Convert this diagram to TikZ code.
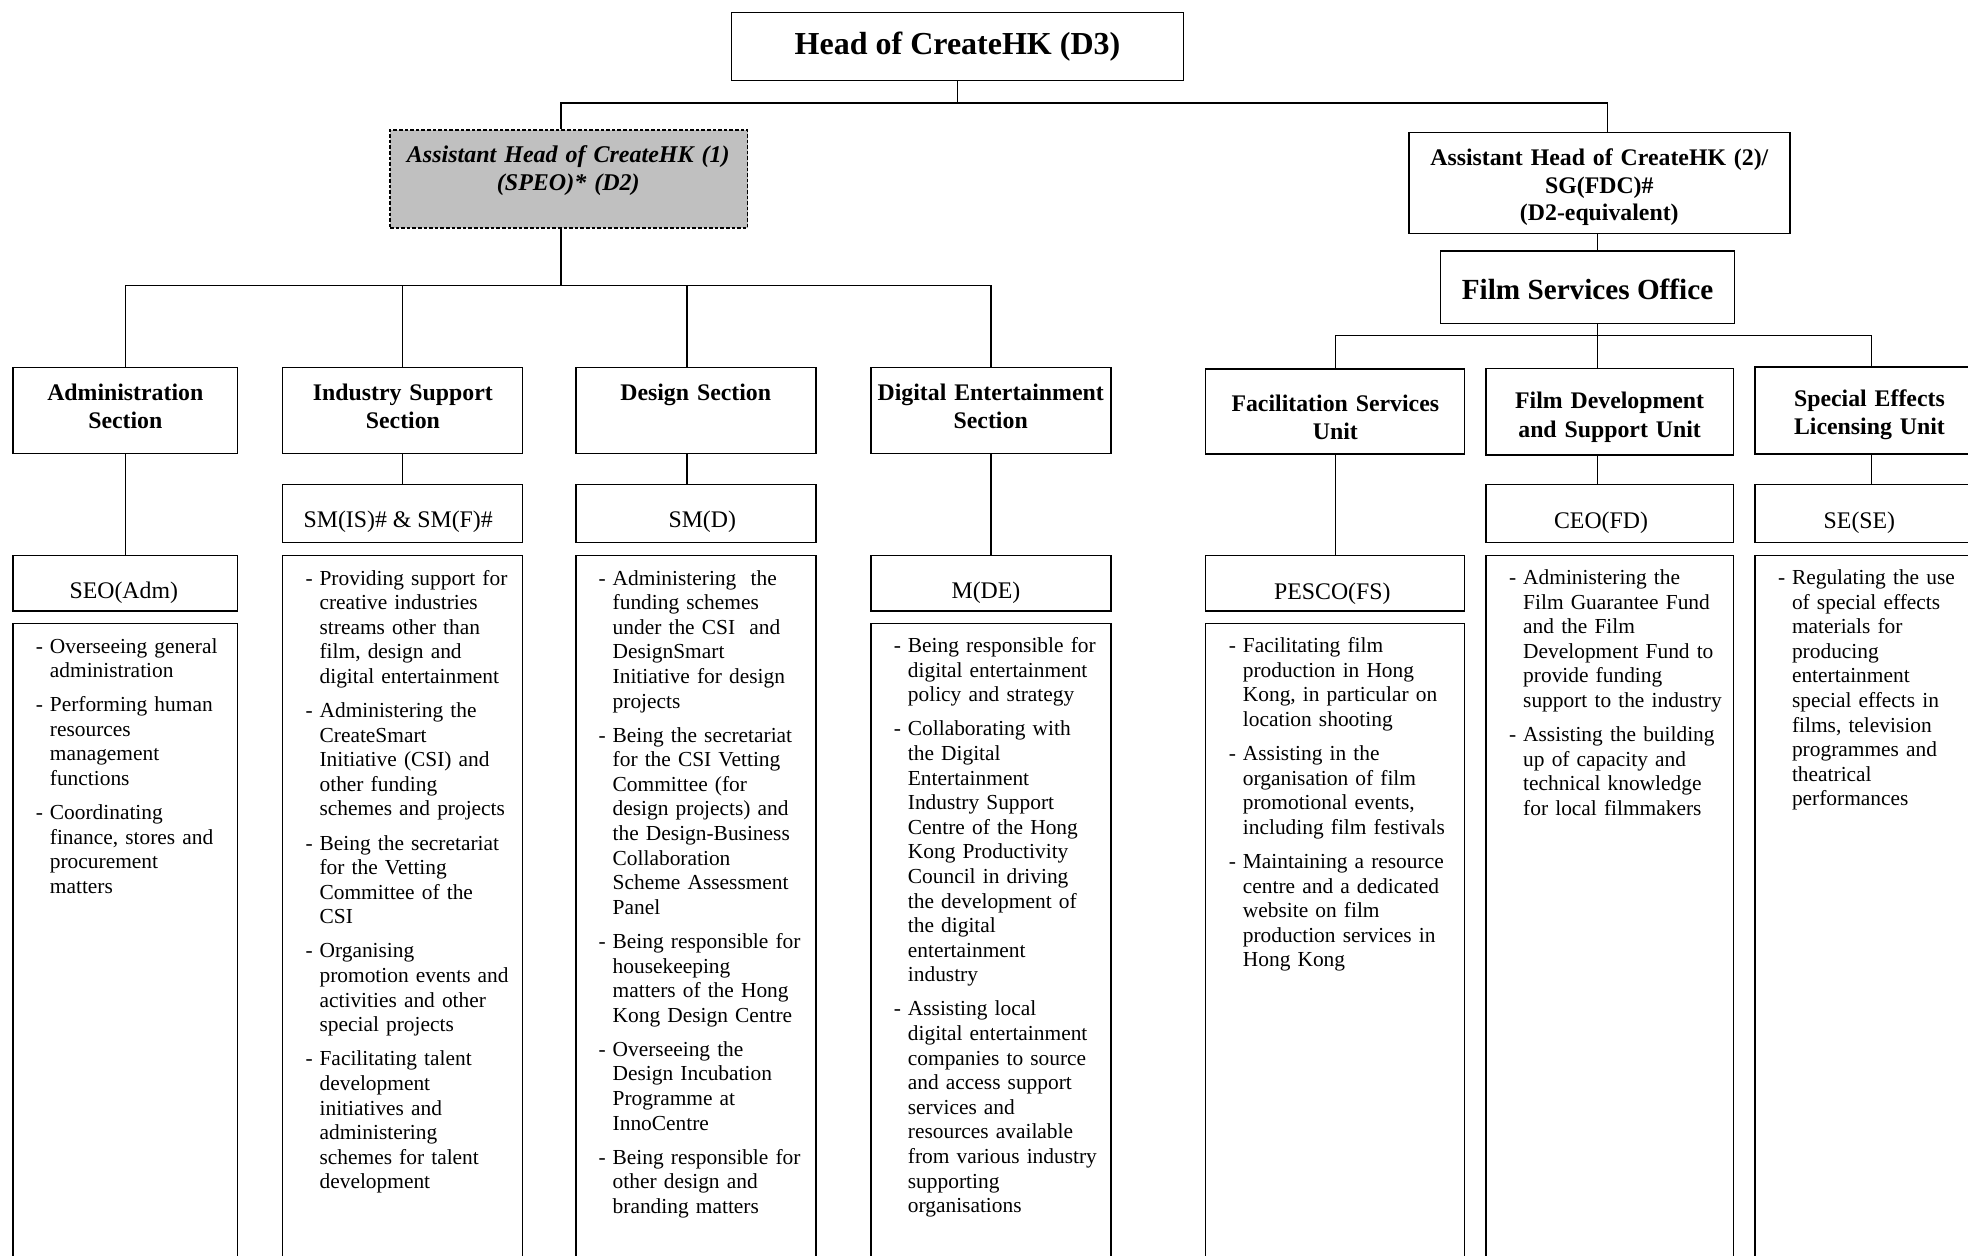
\documentclass[tikz,border=0pt]{standalone}
\usepackage{fontspec}
\setmainfont{Liberation Serif}

\newlength{\du}
\setlength{\du}{0.5pt}
\newlength{\dashind}
\setlength{\dashind}{14\du}
\newcommand{\duty}[1]{\hangindent=\dashind\hangafter=1 \makebox[\dashind][l]{-}#1\par\vspace{9.5\du}}

\definecolor{ahgrey}{rgb}{0.752941, 0.752941, 0.752941}
\tikzset{
  orgbox/.style={draw=black, fill=white, line width=0.75pt, inner sep=0pt},
  ahbox/.style={orgbox, fill=ahgrey, dash pattern=on 1.8pt off 1pt},
  link/.style={draw=black, line width=0.6pt},
  unitname/.style={inner sep=0pt, anchor=base, align=center,
    font=\bfseries\fontsize{11.9pt}{14pt}\selectfont},
  postname/.style={inner sep=0pt, anchor=base, font=\fontsize{11.9pt}{14pt}\selectfont},
  dutylist/.style={inner sep=0pt, anchor=base west, align=left,
    font=\fontsize{10.7pt}{12.3pt}\selectfont},
}

\begin{document}
\begin{tikzpicture}
\pgftransformxscale{1.000000}
\pgftransformyscale{-1.000000}
\path[use as bounding box, fill=white] (0\du,0\du) rectangle (1968\du,1256\du);
\clip (0\du,0\du) rectangle (1968\du,1256\du);
% top level
\node[orgbox, minimum width=451.6\du, minimum height=68\du] (head) at (957.5\du,46.7\du) {};
\node[unitname, font=\bfseries\fontsize{16pt}{19pt}\selectfont] (headt) at (957.5\du,55\du) {Head of CreateHK (D3)};
\node[ahbox, minimum width=357.7\du, minimum height=98\du] (ah1) at (568.85\du,179\du) {};
\node[unitname, text width=350\du, font=\bfseries\itshape\fontsize{12pt}{13.8pt}\selectfont] (ah1t) at (568.3\du,162.5\du) {Assistant Head of CreateHK (1)\\(SPEO)* (D2)};
\node[orgbox, minimum width=381\du, minimum height=101\du] (ah2) at (1599.5\du,182.8\du) {};
\node[unitname, text width=376\du, font=\bfseries\fontsize{11.9pt}{13.75pt}\selectfont] (ah2t) at (1599.3\du,165.6\du) {Assistant Head of CreateHK (2)/\\SG(FDC)\#\\(D2-equivalent)};
\node[orgbox, minimum width=293.6\du, minimum height=72.5\du] (fso) at (1587.5\du,287.05\du) {};
\node[unitname, font=\bfseries\fontsize{14.6pt}{17pt}\selectfont] (fsot) at (1587.5\du,299.5\du) {Film Services Office};
% sections and units
\node[orgbox, minimum width=224.3\du, minimum height=86.2\du] (adm) at (125.15\du,410.4\du) {};
\node[unitname, text width=222\du] (admt) at (125.3\du,400.7\du) {Administration\\Section};
\node[orgbox, minimum width=239.8\du, minimum height=86.2\du] (isec) at (402.6\du,410.4\du) {};
\node[unitname, text width=238\du] (isect) at (402.9\du,400.7\du) {Industry Support\\Section};
\node[orgbox, minimum width=240.4\du, minimum height=86.2\du] (des) at (696\du,410.4\du) {};
\node[unitname, text width=238\du] (dest) at (695.7\du,400.7\du) {Design Section};
\node[orgbox, minimum width=240\du, minimum height=86.2\du] (dent) at (991\du,410.4\du) {};
\node[unitname, text width=238\du] (dentt) at (990.7\du,400.7\du) {Digital Entertainment\\Section};
\node[orgbox, minimum width=258.8\du, minimum height=85\du] (fsu) at (1335.1\du,411.5\du) {};
\node[unitname, text width=256\du] (fsut) at (1335.3\du,411.8\du) {Facilitation Services\\Unit};
\node[orgbox, minimum width=247.7\du, minimum height=86.5\du] (fdsu) at (1609.85\du,411.75\du) {};
\node[unitname, text width=245\du] (fdsut) at (1609.6\du,409\du) {Film Development\\and Support Unit};
\node[orgbox, minimum width=233\du, minimum height=87\du] (selu) at (1871.5\du,410.5\du) {};
\node[unitname, text width=230\du] (selut) at (1869.4\du,406.8\du) {Special Effects\\Licensing Unit};
% posts
\node[orgbox, minimum width=239.8\du, minimum height=58.2\du] (smis) at (402.6\du,513.6\du) {};
\node[postname] (smist) at (398.2\du,527\du) {SM(IS)\# \& SM(F)\#};
\node[orgbox, minimum width=240.4\du, minimum height=58.2\du] (smd) at (696\du,513.6\du) {};
\node[postname] (smdt) at (702.3\du,527\du) {SM(D)};
\node[orgbox, minimum width=247.7\du, minimum height=58.2\du] (ceo) at (1609.85\du,513.6\du) {};
\node[postname] (ceot) at (1601\du,528.5\du) {CEO(FD)};
\node[orgbox, minimum width=233\du, minimum height=58.2\du] (sese) at (1871.5\du,513.6\du) {};
\node[postname] (seset) at (1859.4\du,528.5\du) {SE(SE)};
\node[orgbox, minimum width=224.3\du, minimum height=55.3\du] (seo) at (125.15\du,583.35\du) {};
\node[postname] (seot) at (123.8\du,598.3\du) {SEO(Adm)};
\node[orgbox, minimum width=240\du, minimum height=55.3\du] (mde) at (991\du,583.35\du) {};
\node[postname] (mdet) at (986\du,598.3\du) {M(DE)};
\node[orgbox, minimum width=258.8\du, minimum height=55.3\du] (pesco) at (1335.1\du,583.35\du) {};
\node[postname] (pescot) at (1332.3\du,599.3\du) {PESCO(FS)};
% duties
\node[orgbox, minimum width=224.3\du, minimum height=666.6\du] (admd) at (125.15\du,956.7\du) {};
\node[dutylist, text width=198\du] (admdt) at (35.5\du,653\du) {%
\duty{Overseeing general\newline administration}
\duty{Performing human\newline resources\newline management\newline functions}
\duty{Coordinating\newline finance, stores and\newline procurement\newline matters}};
\node[orgbox, minimum width=239.8\du, minimum height=734.3\du] (isd) at (402.6\du,922.85\du) {};
\node[dutylist, text width=213\du] (isdt) at (305.2\du,585\du) {%
\duty{Providing support for\newline creative industries\newline streams other than\newline film, design and\newline digital entertainment}
\duty{Administering the\newline CreateSmart\newline Initiative (CSI) and\newline other funding\newline schemes and projects}
\duty{Being the secretariat\newline for the Vetting\newline Committee of the\newline CSI}
\duty{Organising\newline promotion events and\newline activities and other\newline special projects}
\duty{Facilitating talent\newline development\newline initiatives and\newline administering\newline schemes for talent\newline development}};
\node[orgbox, minimum width=240.4\du, minimum height=734.3\du] (desd) at (696\du,922.85\du) {};
\node[dutylist, text width=214\du] (desdt) at (598.3\du,585\du) {%
\duty{Administering\ \ the\newline funding schemes\newline under the CSI\ \ and\newline DesignSmart\newline Initiative for design\newline projects}
\duty{Being the secretariat\newline for the CSI Vetting\newline Committee (for\newline design projects) and\newline the Design-Business\newline Collaboration\newline Scheme Assessment\newline Panel}
\duty{Being responsible for\newline housekeeping\newline matters of the Hong\newline Kong Design Centre}
\duty{Overseeing the\newline Design Incubation\newline Programme at\newline InnoCentre}
\duty{Being responsible for\newline other design and\newline branding matters}};
\node[orgbox, minimum width=240\du, minimum height=666.6\du] (ded) at (991\du,956.7\du) {};
\node[dutylist, text width=213\du] (dedt) at (893.5\du,652.5\du) {%
\duty{Being responsible for\newline digital entertainment\newline policy and strategy}
\duty{Collaborating with\newline the Digital\newline Entertainment\newline Industry Support\newline Centre of the Hong\newline Kong Productivity\newline Council in driving\newline the development of\newline the digital\newline entertainment\newline industry}
\duty{Assisting local\newline digital entertainment\newline companies to source\newline and access support\newline services and\newline resources available\newline from various industry\newline supporting\newline organisations}};
\node[orgbox, minimum width=258.8\du, minimum height=666.6\du] (fsud) at (1335.1\du,956.7\du) {};
\node[dutylist, text width=232\du] (fsudt) at (1228.5\du,652.7\du) {%
\duty{Facilitating film\newline production in Hong\newline Kong, in particular on\newline location shooting}
\duty{Assisting in the\newline organisation of film\newline promotional events,\newline including film festivals}
\duty{Maintaining a resource\newline centre and a dedicated\newline website on film\newline production services in\newline Hong Kong}};
\node[orgbox, minimum width=247.7\du, minimum height=734.3\du] (fdsud) at (1609.85\du,922.85\du) {};
\node[dutylist, text width=222\du] (fdsudt) at (1508.8\du,584.5\du) {%
\duty{Administering the\newline Film Guarantee Fund\newline and the Film\newline Development Fund to\newline provide funding\newline support to the industry}
\duty{Assisting the building\newline up of capacity and\newline technical knowledge\newline for local filmmakers}};
\node[orgbox, minimum width=233\du, minimum height=734.3\du] (selud) at (1871.5\du,922.85\du) {};
\node[dutylist, text width=208\du] (seludt) at (1777.6\du,584.5\du) {%
\duty{Regulating the use\newline of special effects\newline materials for\newline producing\newline entertainment\newline special effects in\newline films, television\newline programmes and\newline theatrical\newline performances}};
% connectors
\coordinate (topbarl) at (561\du,103\du);
\coordinate (topbarr) at (1607.3\du,103\du);
\coordinate (secbar) at (561\du,285.7\du);
\coordinate (desdrop) at (687\du,285.7\du);
\coordinate (filmdrop) at (1597.7\du,335.6\du);
\draw[link] (head) -- (head |- topbarl);
\draw[link] (topbarl |- ah1.north) -- (topbarl) -- (topbarr) -- (topbarr |- ah2.north);
\draw[link] (secbar |- ah1.south) -- (secbar);
\draw[link] (adm.north) |- (dent.north |- secbar) -- (dent.north);
\draw[link] (isec.north) -- (isec.north |- secbar);
\draw[link] (desdrop) -- (desdrop |- des.north);
\draw[link] (adm) -- (seo);
\draw[link] (isec) -- (smis);
\draw[link] (desdrop |- des.south) -- (desdrop |- smd.north);
\draw[link] (dent) -- (mde);
\draw[link] (filmdrop |- ah2.south) -- (filmdrop |- fso.north);
\draw[link] (filmdrop |- fso.south) -- (filmdrop |- fdsu.north);
\draw[link] (fsu.north) |- (selu.north |- filmdrop) -- (selu.north);
\draw[link] (fsu) -- (pesco);
\draw[link] (filmdrop |- fdsu.south) -- (filmdrop |- ceo.north);
\draw[link] (selu) -- (sese);
\end{tikzpicture}
\end{document}
